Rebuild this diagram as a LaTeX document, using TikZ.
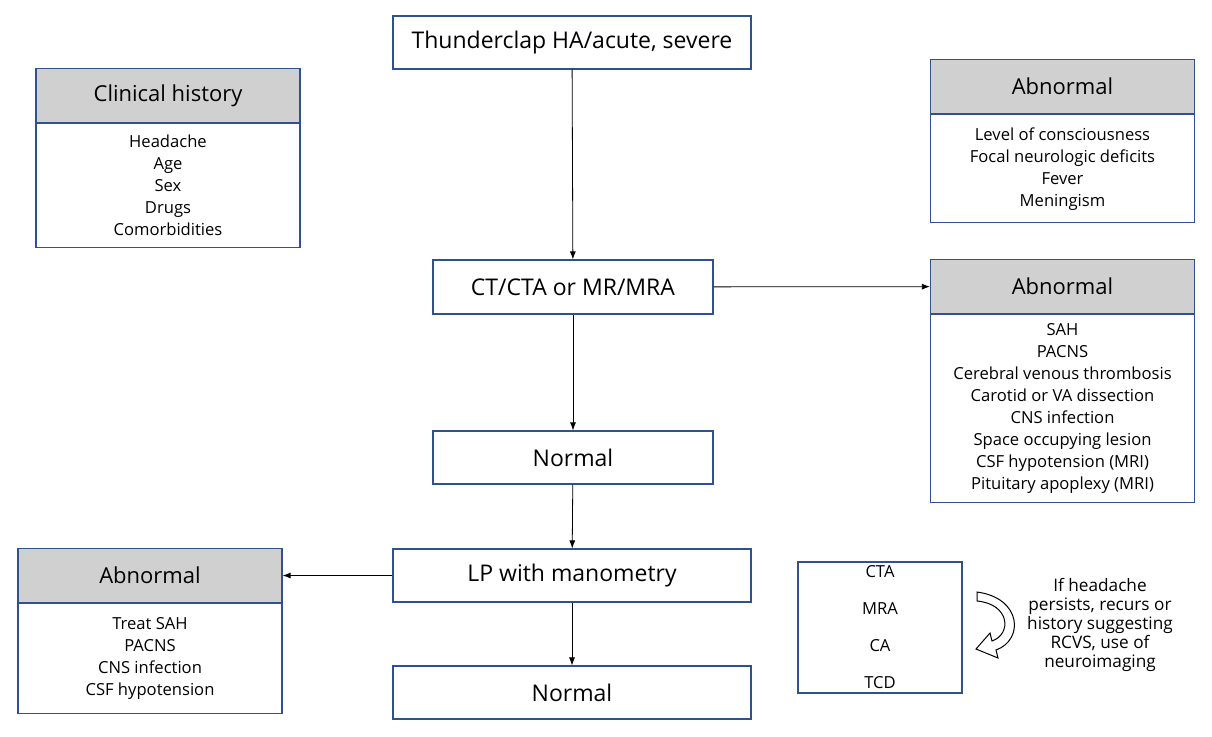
\documentclass[tikz,border=0pt]{standalone}
\usepackage{fontspec}
\setmainfont{Open Sans}
\usetikzlibrary{positioning,arrows.meta}
\definecolor{boxline}{HTML}{2F528F}
\definecolor{headfill}{HTML}{D0D0D0}
\begin{document}
\begin{tikzpicture}[x=0.5pt,y=-0.5pt,
    box/.style={draw=boxline, line width=0.6pt, fill=white, align=center, inner sep=0pt},
    stage/.style={box, font=\fontsize{11.5}{14}\selectfont},
    head/.style={box, fill=headfill, minimum width=132pt, minimum height=27pt, font=\fontsize{11}{13}\selectfont},
    body/.style={box, minimum width=132pt, font=\fontsize{8.3}{11}\selectfont},
    flow/.style={-{Latex[length=4pt,width=3pt]}, line width=0.4pt}]
    \useasboundingbox (0,0) rectangle (1212,736);

    % Main flow
    \node[stage, minimum width=179pt, minimum height=26.5pt] (thunder) at (572,42.5) {Thunderclap HA/acute, severe};
    \node[stage, minimum width=140pt, minimum height=27pt] (ct) at (573,287) {CT/CTA or MR/MRA};
    \node[stage, minimum width=140pt, minimum height=26.5pt] (normalA) at (573,457.5) {Normal};
    \node[stage, minimum width=179pt, minimum height=26.5pt] (lp) at (572,575.5) {LP with manometry};
    \node[stage, minimum width=179pt, minimum height=26.5pt] (normalB) at (572,692.5) {Normal};

    % Clinical history
    \node[head] (histhead) at (168,95.5) {Clinical history};
    \node[body, minimum height=62pt, below=0pt of histhead] (histbody)
        {Headache\\Age\\Sex\\Drugs\\Comorbidities};

    % Abnormal examination
    \node[head] (examhead) at (1062.5,86.5) {Abnormal};
    \node[body, minimum height=54pt, below=0pt of examhead] (exambody)
        {Level of consciousness\\Focal neurologic deficits\\Fever\\Meningism};

    % Abnormal imaging
    \node[head] (imghead) at (1062.5,286.5) {Abnormal};
    \node[body, minimum height=94pt, below=0pt of imghead] (imgbody)
        {SAH\\PACNS\\Cerebral venous thrombosis\\Carotid or VA dissection\\CNS infection\\Space occupying lesion\\CSF hypotension (MRI)\\Pituitary apoplexy (MRI)};

    % Abnormal LP
    \node[head] (lphead) at (150,575.5) {Abnormal};
    \node[body, minimum height=55pt, below=0pt of lphead] (lpbody)
        {Treat SAH\\PACNS\\CNS infection\\CSF hypotension};

    % Vascular imaging
    \node[box, minimum width=82pt, minimum height=65.5pt, font=\fontsize{8.3}{18.5}\selectfont] (vasc) at (880,627.5)
        {CTA\\MRA\\CA\\TCD};
    \node[align=center, font=\fontsize{8.6}{9.6}\selectfont] (note) at (1100,625)
        {If headache\\persists, recurs or\\history suggesting\\RCVS, use of\\neuroimaging};
    \draw[line width=0.5pt, fill=white] (977,592) .. controls (1022,598) and (1024,640) .. (996,650)
        -- (998,658) -- (976,649) -- (990,633) -- (992,641)
        .. controls (1012,634) and (1010,604) .. (977,601) -- cycle;

    % Connectors
    \draw[flow] (thunder) -- (ct);
    \draw[flow] (ct) -- (imghead);
    \draw[flow] (ct) -- (normalA);
    \draw[flow] (normalA) -- (lp);
    \draw[flow] (lp) -- (lphead);
    \draw[flow] (lp) -- (normalB);
\end{tikzpicture}
\end{document}
